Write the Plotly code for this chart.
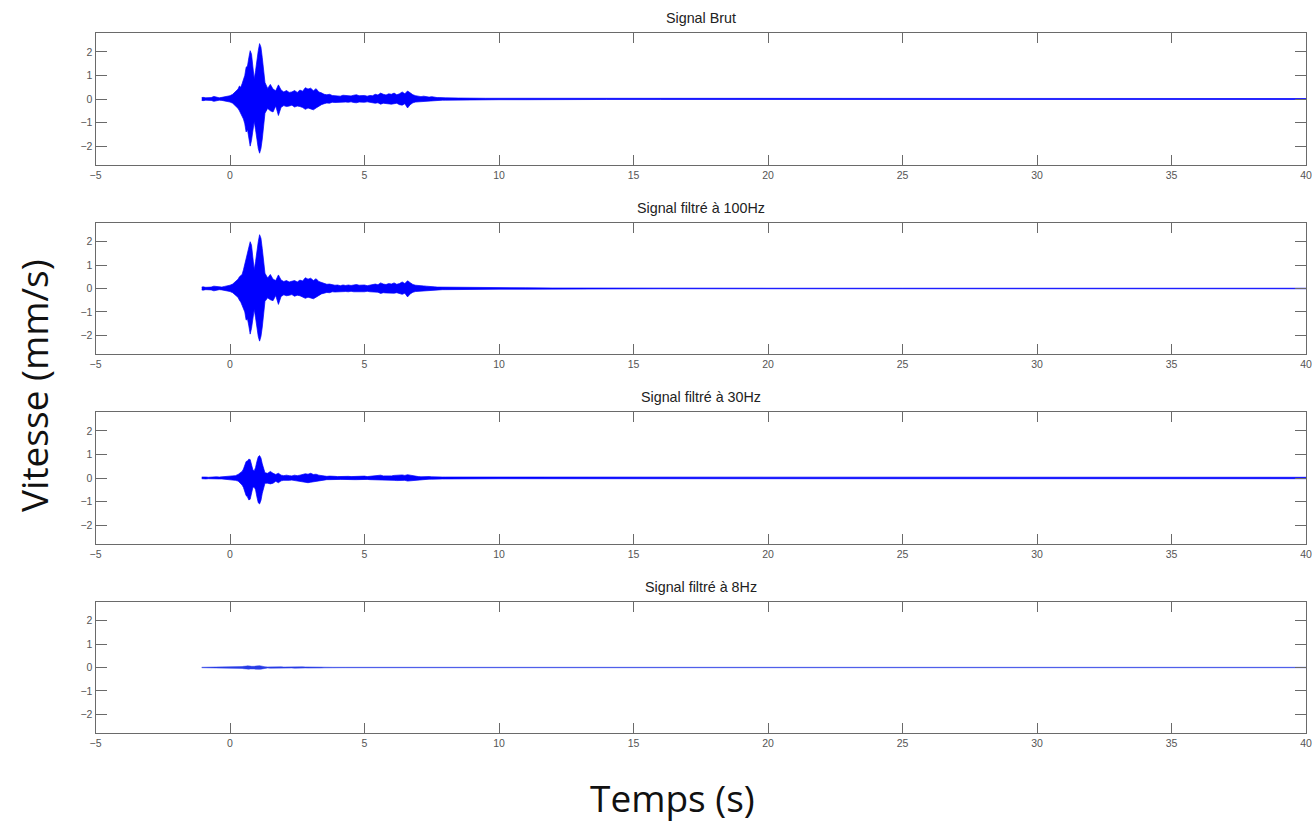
import plotly.graph_objects as go

# ---------------- data (envelope of each velocity trace) ----------------
T = [-1.05, -1.0, -0.9, -0.8, -0.7, -0.6, -0.5, -0.4, -0.3, -0.2, -0.1, 0.0, 0.1, 0.2, 0.3,
     0.35, 0.4, 0.45, 0.5, 0.55, 0.6, 0.65, 0.7, 0.75, 0.8, 0.85, 0.9, 0.95, 1.0, 1.05, 1.1, 1.15, 1.2, 1.25, 1.3,
     1.4, 1.5, 1.6, 1.7, 1.8, 1.9,
     2.0, 2.1, 2.2, 2.3, 2.4, 2.5, 2.6, 2.7, 2.8, 2.9,
     3.0, 3.1, 3.2, 3.3, 3.4, 3.5, 3.6, 3.7, 3.8, 3.9,
     4.0, 4.1, 4.2, 4.3, 4.4, 4.5, 4.6, 4.7, 4.8, 4.9,
     5.0, 5.1, 5.2, 5.3, 5.4, 5.5, 5.6, 5.7, 5.8, 5.9,
     6.0, 6.1, 6.2, 6.3, 6.4, 6.5, 6.6, 6.7, 6.8, 6.9,
     7.0, 7.1, 7.2, 7.3, 7.4, 7.5, 7.6, 7.7, 7.8, 7.9,
     8.0, 8.5, 9.0, 9.5, 10.0, 11.0, 12.0, 14.0, 16.0, 20.0, 25.0, 30.0, 35.0, 40.0]

brut_upper = [0.06, 0.07, 0.05, 0.04, 0.06, 0.11, 0.08, 0.05, 0.07, 0.09, 0.12, 0.14, 0.2, 0.3, 0.42,
              0.55, 0.5, 0.65, 0.8, 1.0, 1.35, 1.4, 1.75, 2.05, 1.9, 1.3, 0.85, 1.2, 1.7, 2.05, 2.35, 2.2, 1.75, 1.1, 0.7,
              0.45, 0.62, 0.42, 0.35, 0.6, 0.38,
              0.3, 0.36, 0.28, 0.3, 0.36, 0.28, 0.38, 0.33, 0.48, 0.42,
              0.46, 0.35, 0.44, 0.3, 0.26, 0.2, 0.18, 0.2, 0.15, 0.14,
              0.16, 0.12, 0.16, 0.14, 0.15, 0.13, 0.16, 0.18, 0.14, 0.16,
              0.15, 0.12, 0.15, 0.14, 0.2, 0.17, 0.25, 0.2, 0.17, 0.22,
              0.2, 0.25, 0.18, 0.22, 0.3, 0.22, 0.34, 0.26, 0.18, 0.14,
              0.12, 0.1, 0.12, 0.1, 0.08, 0.1, 0.07, 0.06, 0.06, 0.05,
              0.05, 0.04, 0.05, 0.03, 0.03, 0.03, 0.02, 0.02, 0.02, 0.02, 0.02, 0.02, 0.02, 0.02]
brut_lower = [-0.06, -0.07, -0.05, -0.04, -0.06, -0.1, -0.07, -0.05, -0.06, -0.08, -0.1, -0.13, -0.18, -0.28, -0.4,
              -0.5, -0.6, -0.7, -0.85, -1.05, -1.4, -1.3, -1.65, -2.0, -1.75, -1.2, -0.95, -1.3, -1.75, -2.1, -2.3, -2.1, -1.7, -1.05, -0.6,
              -0.4, -0.5, -0.55, -0.3, -0.7, -0.35,
              -0.28, -0.32, -0.3, -0.26, -0.34, -0.3, -0.32, -0.36, -0.44, -0.38,
              -0.42, -0.46, -0.38, -0.3, -0.24, -0.2, -0.17, -0.18, -0.14, -0.15,
              -0.14, -0.13, -0.15, -0.13, -0.14, -0.12, -0.15, -0.16, -0.13, -0.15,
              -0.14, -0.12, -0.14, -0.15, -0.18, -0.16, -0.22, -0.18, -0.2, -0.2,
              -0.22, -0.2, -0.18, -0.24, -0.26, -0.2, -0.38, -0.24, -0.16, -0.13,
              -0.12, -0.1, -0.11, -0.09, -0.08, -0.09, -0.07, -0.06, -0.05, -0.05,
              -0.05, -0.04, -0.04, -0.03, -0.03, -0.03, -0.02, -0.02, -0.02, -0.02, -0.02, -0.02, -0.02, -0.02]

f100_upper = [0.06, 0.07, 0.05, 0.04, 0.06, 0.1, 0.08, 0.05, 0.06, 0.09, 0.11, 0.14, 0.19, 0.28, 0.4,
              0.5, 0.55, 0.6, 0.8, 1.05, 1.3, 1.45, 1.7, 2.0, 1.85, 1.25, 0.8, 1.15, 1.65, 2.0, 2.3, 2.15, 1.7, 1.05, 0.65,
              0.45, 0.6, 0.4, 0.34, 0.58, 0.36,
              0.3, 0.34, 0.28, 0.3, 0.34, 0.28, 0.36, 0.32, 0.46, 0.4,
              0.44, 0.34, 0.42, 0.3, 0.25, 0.2, 0.18, 0.19, 0.15, 0.14,
              0.15, 0.12, 0.15, 0.13, 0.15, 0.13, 0.15, 0.17, 0.14, 0.15,
              0.15, 0.12, 0.14, 0.14, 0.19, 0.16, 0.24, 0.19, 0.17, 0.21,
              0.19, 0.24, 0.18, 0.21, 0.28, 0.21, 0.33, 0.25, 0.17, 0.14,
              0.12, 0.1, 0.11, 0.1, 0.08, 0.09, 0.07, 0.06, 0.06, 0.05,
              0.05, 0.05, 0.04, 0.04, 0.03, 0.03, 0.02, 0.012, 0.012, 0.012, 0.012, 0.012, 0.012, 0.012]
f100_lower = [-0.06, -0.07, -0.05, -0.04, -0.06, -0.1, -0.07, -0.05, -0.06, -0.08, -0.1, -0.13, -0.18, -0.27, -0.38,
              -0.5, -0.58, -0.72, -0.85, -1.0, -1.35, -1.3, -1.6, -1.95, -1.7, -1.15, -0.9, -1.25, -1.7, -2.05, -2.25, -2.05, -1.65, -1.0, -0.55,
              -0.4, -0.48, -0.52, -0.3, -0.68, -0.34,
              -0.27, -0.31, -0.29, -0.26, -0.33, -0.29, -0.31, -0.35, -0.42, -0.37,
              -0.4, -0.44, -0.37, -0.29, -0.23, -0.2, -0.17, -0.18, -0.14, -0.15,
              -0.14, -0.13, -0.14, -0.13, -0.14, -0.12, -0.14, -0.15, -0.13, -0.14,
              -0.14, -0.12, -0.14, -0.14, -0.17, -0.16, -0.21, -0.18, -0.19, -0.2,
              -0.21, -0.2, -0.18, -0.23, -0.25, -0.2, -0.36, -0.23, -0.16, -0.13,
              -0.12, -0.1, -0.1, -0.09, -0.08, -0.09, -0.07, -0.06, -0.05, -0.05,
              -0.05, -0.04, -0.04, -0.04, -0.03, -0.03, -0.02, -0.012, -0.012, -0.012, -0.012, -0.012, -0.012, -0.012]

f30_upper = [0.04, 0.05, 0.04, 0.03, 0.04, 0.06, 0.05, 0.04, 0.05, 0.05, 0.06, 0.07, 0.08, 0.1, 0.15,
             0.2, 0.22, 0.28, 0.38, 0.55, 0.7, 0.72, 0.8, 0.78, 0.55, 0.35, 0.3, 0.45, 0.7, 0.9, 0.95, 0.85, 0.6, 0.35, 0.22,
             0.2, 0.28, 0.2, 0.15, 0.2, 0.12,
             0.1, 0.12, 0.1, 0.09, 0.12, 0.1, 0.12, 0.14, 0.18, 0.16,
             0.2, 0.15, 0.16, 0.12, 0.1, 0.08, 0.07, 0.08, 0.06, 0.07,
             0.06, 0.07, 0.06, 0.08, 0.07, 0.06, 0.07, 0.08, 0.06, 0.07,
             0.08, 0.06, 0.07, 0.08, 0.1, 0.08, 0.12, 0.09, 0.08, 0.1,
             0.09, 0.11, 0.12, 0.1, 0.13, 0.11, 0.14, 0.12, 0.09, 0.07,
             0.06, 0.05, 0.06, 0.05, 0.06, 0.05, 0.04, 0.05, 0.04, 0.04,
             0.04, 0.04, 0.04, 0.03, 0.04, 0.04, 0.03, 0.04, 0.03, 0.04, 0.03, 0.04, 0.03, 0.03]
f30_lower = [-0.03, -0.04, -0.04, -0.03, -0.04, -0.05, -0.04, -0.04, -0.04, -0.05, -0.05, -0.06, -0.07, -0.1, -0.13,
             -0.18, -0.22, -0.3, -0.4, -0.6, -0.75, -0.8, -0.93, -0.9, -0.6, -0.4, -0.38, -0.5, -0.8, -1.05, -1.1, -0.95, -0.65, -0.38, -0.22,
             -0.22, -0.25, -0.22, -0.14, -0.2, -0.12,
             -0.1, -0.11, -0.1, -0.09, -0.11, -0.1, -0.12, -0.15, -0.17, -0.2,
             -0.18, -0.16, -0.14, -0.11, -0.09, -0.08, -0.07, -0.07, -0.06, -0.06,
             -0.07, -0.06, -0.06, -0.07, -0.06, -0.06, -0.07, -0.07, -0.06, -0.07,
             -0.07, -0.06, -0.07, -0.07, -0.09, -0.08, -0.1, -0.08, -0.08, -0.09,
             -0.1, -0.1, -0.11, -0.1, -0.12, -0.1, -0.13, -0.12, -0.1, -0.07,
             -0.06, -0.05, -0.05, -0.05, -0.05, -0.05, -0.04, -0.04, -0.04, -0.04,
             -0.04, -0.03, -0.04, -0.03, -0.03, -0.03, -0.03, -0.03, -0.03, -0.03, -0.03, -0.03, -0.03, -0.03]

f8_upper = [0.01, 0.01, 0.01, 0.01, 0.01, 0.01, 0.01, 0.01, 0.01, 0.01, 0.01, 0.01, 0.01, 0.012, 0.015,
            0.02, 0.03, 0.04, 0.05, 0.04, 0.06, 0.07, 0.05, 0.06, 0.05, 0.04, 0.05, 0.06, 0.08, 0.07, 0.08, 0.06, 0.05, 0.04, 0.03,
            0.025, 0.03, 0.02, 0.025, 0.02, 0.03,
            0.02, 0.025, 0.03, 0.02, 0.025, 0.03, 0.02, 0.03, 0.025, 0.02,
            0.03, 0.02, 0.025, 0.03, 0.02, 0.02, 0.01, 0.01, 0.01, 0.01,
            0.01, 0.01, 0.01, 0.01, 0.01, 0.01, 0.01, 0.01, 0.01, 0.01,
            0.01, 0.01, 0.01, 0.01, 0.01, 0.015, 0.03, 0.03, 0.02, 0.01,
            0.01, 0.01, 0.01, 0.01, 0.01, 0.015, 0.035, 0.035, 0.02, 0.01,
            0.01, 0.01, 0.01, 0.01, 0.01, 0.01, 0.01, 0.01, 0.01, 0.01,
            0.01, 0.01, 0.01, 0.01, 0.01, 0.01, 0.01, 0.01, 0.01, 0.01, 0.01, 0.01, 0.01, 0.01]
f8_lower = [-0.01, -0.01, -0.01, -0.01, -0.01, -0.01, -0.01, -0.01, -0.01, -0.01, -0.01, -0.01, -0.01, -0.012, -0.015,
            -0.02, -0.03, -0.04, -0.05, -0.06, -0.07, -0.06, -0.07, -0.06, -0.05, -0.05, -0.06, -0.07, -0.08, -0.09, -0.08, -0.07, -0.06, -0.04, -0.03,
            -0.02, -0.03, -0.025, -0.02, -0.03, -0.025,
            -0.02, -0.03, -0.025, -0.02, -0.03, -0.02, -0.025, -0.03, -0.02, -0.025,
            -0.03, -0.025, -0.02, -0.03, -0.02, -0.015, -0.01, -0.01, -0.01, -0.01,
            -0.01, -0.01, -0.01, -0.01, -0.01, -0.01, -0.01, -0.01, -0.01, -0.01,
            -0.01, -0.01, -0.01, -0.01, -0.01, -0.015, -0.025, -0.03, -0.02, -0.01,
            -0.01, -0.01, -0.01, -0.01, -0.01, -0.015, -0.03, -0.035, -0.02, -0.01,
            -0.01, -0.01, -0.01, -0.01, -0.01, -0.01, -0.01, -0.01, -0.01, -0.01,
            -0.01, -0.01, -0.01, -0.01, -0.01, -0.01, -0.01, -0.01, -0.01, -0.01, -0.01, -0.01, -0.01, -0.01]

titles = ["Signal Brut", "Signal filtré à 100Hz", "Signal filtré à 30Hz", "Signal filtré à 8Hz"]
uppers = [brut_upper, f100_upper, f30_upper, f8_upper]
lowers = [brut_lower, f100_lower, f30_lower, f8_lower]
x_ticks = [-5, 0, 5, 10, 15, 20, 25, 30, 35, 40]
y_ticks = [-2, -1, 0, 1, 2]
x_label = "Temps (s)"
y_label = "Vitesse (mm/s)"

# ---------------- layout geometry ----------------
W, H = 1312, 823
px_left, px_right = 95.5, 1306
panels_px = [(33, 165), (223, 354), (412, 544), (602, 733)]
BLUE = "rgb(0,0,255)"
LINE_COLORS = [BLUE, BLUE, BLUE, "rgb(40,60,230)"]
LINE_WIDTHS = [0.7, 0.7, 0.7, 0.5]
AX = "#6a6a6a"

fig = go.Figure()
layout = dict(width=W, height=H, margin=dict(l=0, r=0, t=0, b=0, autoexpand=False),
              paper_bgcolor="white", plot_bgcolor="white", showlegend=False)
annotations = []

for i in range(4):
    n = "" if i == 0 else str(i + 1)
    xa, ya = "x" + n, "y" + n
    fig.add_trace(go.Scatter(x=T, y=uppers[i], mode="lines", xaxis=xa, yaxis=ya,
                             line=dict(color=LINE_COLORS[i], width=LINE_WIDTHS[i]), hoverinfo="skip"))
    fig.add_trace(go.Scatter(x=T, y=lowers[i], mode="lines", xaxis=xa, yaxis=ya, fill="tonexty",
                             fillcolor=LINE_COLORS[i], line=dict(color=LINE_COLORS[i], width=LINE_WIDTHS[i]),
                             hoverinfo="skip"))
    top, bot = panels_px[i]
    dom_y = [1 - bot / H, 1 - top / H]
    layout["xaxis" + n] = dict(domain=[px_left / W, px_right / W], range=[-5, 40], anchor=ya,
                               tickvals=x_ticks, ticks="inside", ticklen=10, tickwidth=1, tickcolor=AX,
                               showline=True, linecolor=AX, linewidth=1, mirror="ticks",
                               showgrid=False, zeroline=False, automargin=False,
                               tickfont=dict(family="Liberation Sans, Arial", size=10.5, color="#555"))
    layout["yaxis" + n] = dict(domain=dom_y, range=[-2.8, 2.8], anchor=xa,
                               tickvals=y_ticks, ticks="inside", ticklen=11, tickwidth=1, tickcolor=AX,
                               showline=True, linecolor=AX, linewidth=1, mirror="ticks",
                               showgrid=False, zeroline=False, automargin=False,
                               tickfont=dict(family="Liberation Sans, Arial", size=10.5, color="#555"))
    annotations.append(dict(text=titles[i], x=(px_left + px_right) / 2 / W, y=1 - (top - 15) / H,
                            xref="paper", yref="paper", showarrow=False, xanchor="center", yanchor="middle",
                            font=dict(family="Liberation Sans, Arial", size=14.3, color="#222")))

annotations.append(dict(text=y_label, x=33 / W, y=1 - 386 / H, xref="paper", yref="paper",
                        showarrow=False, textangle=-90, xanchor="center", yanchor="middle",
                        font=dict(family="Open Sans", size=37, color="#111")))
annotations.append(dict(text=x_label, x=672 / W, y=1 - 797 / H, xref="paper", yref="paper",
                        showarrow=False, xanchor="center", yanchor="middle",
                        font=dict(family="Open Sans", size=37, color="#111")))
layout["annotations"] = annotations
fig.update_layout(**layout)
fig.write_html("out.html")
